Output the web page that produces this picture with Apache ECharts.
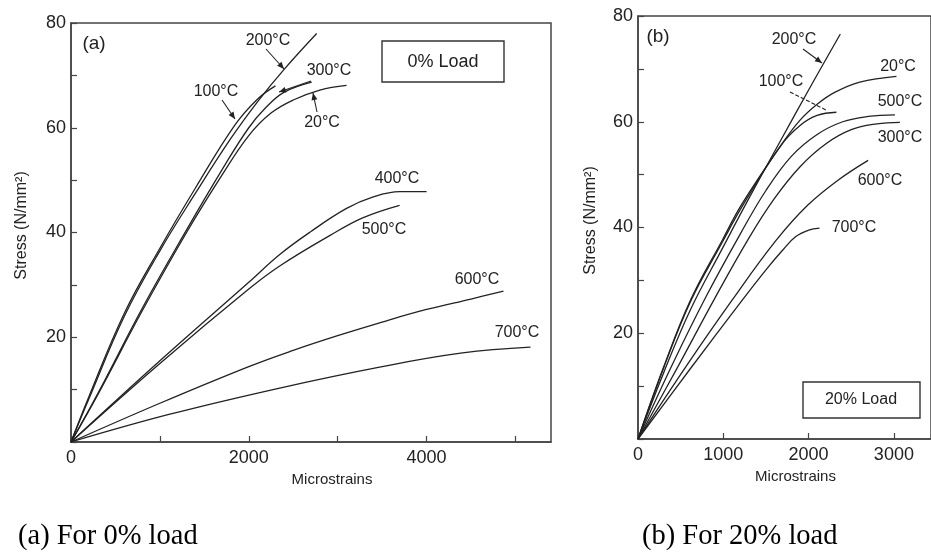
<!DOCTYPE html>
<html><head><meta charset="utf-8">
<script src="https://cdn.jsdelivr.net/npm/echarts@6/dist/echarts.min.js"></script>
<style>html,body{margin:0;padding:0;background:#fff}#c{width:931px;height:552px}</style>
</head><body><div id="c"></div>
<script>
// ---- Panel (a): 0% load ----
const a20_x  = [0,300,800,1300,1700,2000,2250,2500,2800,3100];
const a20_y  = [0,9,25,40,51,58.5,62.8,65.3,67.2,68.1];
const a100_x = [0,200,600,1000,1400,1843,2100,2300];
const a100_y = [0,8.6,24.6,37,48.5,60.5,65.5,68];
const a200_x = [0,210,600,1000,1400,1800,2100,2400,2764];
const a200_y = [0,8.6,24,36.5,47.5,58,65,71.2,78];
const a300_x = [0,300,800,1300,1700,2000,2200,2400,2708];
const a300_y = [0,9.2,25.5,40.5,52,60,64,66.8,68.7];
const a400_x = [0,1000,2000,2348,2700,3100,3400,3700,4000];
const a400_y = [0,15.5,30.5,35.8,40.2,44.6,46.8,47.8,47.8];
const a500_x = [0,1000,2000,2348,2910,3281,3697];
const a500_y = [0,15,29.2,33.6,39.4,42.8,45.2];
const a600_x = [0,1000,2000,2500,3000,3500,4000,4500,4865];
const a600_y = [0,7.4,14.4,17.5,20.3,22.9,25.3,27.3,28.8];
const a700_x = [0,1112,2348,3472,4404,5169];
const a700_y = [0,5.3,10.3,14.3,17.0,18.1];

// ---- Panel (b): 20% load ----
const b20_x  = [0,300,616,988,1221,1674,1900,2100,2300,2600,3030];
const b20_y  = [0,13.6,26.3,37.6,44.5,55.5,60.3,63.3,65.5,67.5,68.6];
const b100_x = [0,300,616,988,1221,1674,1900,2100,2326];
const b100_y = [0,13.4,26,37.2,44,55.5,59.3,61.2,61.8];
const b200_x = [0,300,616,988,1300,1674,2000,2372];
const b200_y = [0,12.5,24.5,36,45.5,56.5,66,76.6];
const b300_x = [0,465,900,1300,1600,1900,2200,2500,2800,3070];
const b300_y = [0,13.6,26.6,38,45.5,51.5,55.8,58.5,59.6,59.9];
const b500_x = [0,400,800,1200,1500,1800,2100,2400,2700,3012];
const b500_y = [0,14,27,38.8,47,53.5,57.6,60,61,61.3];
const b600_x = [0,558,1105,1616,1988,2349,2698];
const b600_y = [0,13.6,26.3,37.5,44.2,49,52.7];
const b700_x = [0,600,1200,1500,1700,1850,2000,2128];
const b700_y = [0,13,25.8,32,35.8,38.3,39.5,39.9];

// Tick labels
const yTickLabels = [20,40,60,80];
const aXTickLabels = [0,2000,4000];
const bXTickLabels = [0,1000,2000,3000];

const zip = (xs, ys) => xs.map((x,i)=>[x, ys[i]]);
const FONT = 'Liberation Sans, Arial, sans-serif';
const INK = '#222';

const panelA = [[a20_x,a20_y],[a100_x,a100_y],[a200_x,a200_y],[a300_x,a300_y],
                [a400_x,a400_y],[a500_x,a500_y],[a600_x,a600_y],[a700_x,a700_y]];
const panelB = [[b20_x,b20_y],[b100_x,b100_y],[b200_x,b200_y],[b300_x,b300_y],
                [b500_x,b500_y],[b600_x,b600_y],[b700_x,b700_y]];

function mkSeries(list, idx){
  return list.map(([xs,ys]) => ({
    type:'line', xAxisIndex:idx, yAxisIndex:idx, data: zip(xs,ys),
    showSymbol:false, smooth:0.4, silent:true,
    lineStyle:{color:INK, width:1.3}
  }));
}

function xAxisCfg(idx, max, labels, padLeft){
  return {
    type:'value', gridIndex:idx, min:0, max:max, interval:1000,
    name:'Microstrains', nameLocation:'middle', nameGap:27,
    nameTextStyle:{fontFamily:FONT, fontSize:15, color:INK, padding:[0,0,0,padLeft]},
    axisLine:{lineStyle:{color:'#444', width:1.5}},
    axisTick:{inside:true, length:6, lineStyle:{color:'#444', width:1.2}},
    axisLabel:{fontFamily:FONT, fontSize:18, color:INK, margin:7,
      showMaxLabel:false,
      formatter: v => labels.includes(v) ? String(v) : ''},
    splitLine:{show:false}
  };
}
function yAxisCfg(idx, gap){
  return {
    type:'value', gridIndex:idx, min:0, max:80, interval:10,
    name:'Stress (N/mm²)', nameLocation:'middle', nameGap:gap, nameRotate:90,
    nameTextStyle:{fontFamily:FONT, fontSize:16, color:INK, padding:[0,0,0,14]},
    axisLine:{lineStyle:{color:'#444', width:1.5}},
    axisTick:{inside:true, length:6, lineStyle:{color:'#444', width:1.2}},
    axisLabel:{fontFamily:FONT, fontSize:18, color:INK, margin:5,
      formatter: v => yTickLabels.includes(v) ? String(v) : ''},
    splitLine:{show:false}
  };
}

function label(x, y, text, size){
  return {type:'text', x:x, y:y, silent:true,
    style:{text:text, fontFamily:FONT, fontSize:size||16, fill:INK, align:'center', verticalAlign:'middle'}};
}
function arrow(x1,y1,x2,y2, dashed){
  const ang = Math.atan2(y2-y1, x2-x1), L = 7, W = 3;
  const bx = x2 - L*Math.cos(ang), by = y2 - L*Math.sin(ang);
  const px = -Math.sin(ang)*W, py = Math.cos(ang)*W;
  const els = [{type:'line', silent:true, shape:{x1:x1,y1:y1,x2:x2,y2:y2},
    style:{stroke:INK, lineWidth:1.1, lineDash: dashed ? [4,2] : null}}];
  if(!dashed) els.push({type:'polygon', silent:true,
    shape:{points:[[x2,y2],[bx+px,by+py],[bx-px,by-py]]}, style:{fill:INK}});
  return els;
}
function box(x,y,w,h){
  return {type:'rect', silent:true, shape:{x:x,y:y,width:w,height:h},
    style:{fill:'#fff', stroke:'#333', lineWidth:1.4}};
}

const SERIF = 'Liberation Serif, Times New Roman, serif';
const graphics = [].concat(
  // panel (a)
  [label(94,44,'(a)',19),
   box(382,41,122,41), label(443,62,'0% Load',18),
   label(268,41,'200°C'), label(216,92,'100°C'), label(329,71,'300°C'),
   label(322,123,'20°C'), label(397,179,'400°C'), label(384,230,'500°C'),
   label(477,280,'600°C'), label(517,333,'700°C')],
  arrow(266,49,284,69), arrow(222,100,235,119), arrow(311,81,279,92), arrow(317,112,313,93),
  // panel (b)
  [label(658,37,'(b)',19),
   box(803,382,117,36), label(861,400,'20% Load',16),
   label(794,40,'200°C'), label(781,82,'100°C'), label(898,67,'20°C'),
   label(900,102,'500°C'), label(900,138,'300°C'), label(880,181,'600°C'),
   label(854,228,'700°C')],
  arrow(803,49,822,63), arrow(790,92,826,110,true),
  // captions
  [{type:'text', x:18, y:537, silent:true, style:{text:'(a) For 0% load', fontFamily:SERIF, fontSize:28.5, fill:'#000', verticalAlign:'middle'}},
   {type:'text', x:642, y:537, silent:true, style:{text:'(b) For 20% load', fontFamily:SERIF, fontSize:28.5, fill:'#000', verticalAlign:'middle'}}]
);

const chart = echarts.init(document.getElementById('c'), null, {renderer:'canvas'});
chart.setOption({
  animation:false,
  backgroundColor:'#fff',
  grid:[
    {left:71, top:23, right:380, bottom:110, show:true, borderColor:'#444', borderWidth:1.5},
    {left:638, top:16, right:-2, bottom:113, show:true, borderColor:'#444', borderWidth:1.5}
  ],
  xAxis:[xAxisCfg(0,5400,aXTickLabels,42), xAxisCfg(1,3435,bXTickLabels,22)],
  yAxis:[yAxisCfg(0,41), yAxisCfg(1,39)],
  series: mkSeries(panelA,0).concat(mkSeries(panelB,1)),
  graphic: graphics
});
</script></body></html>
